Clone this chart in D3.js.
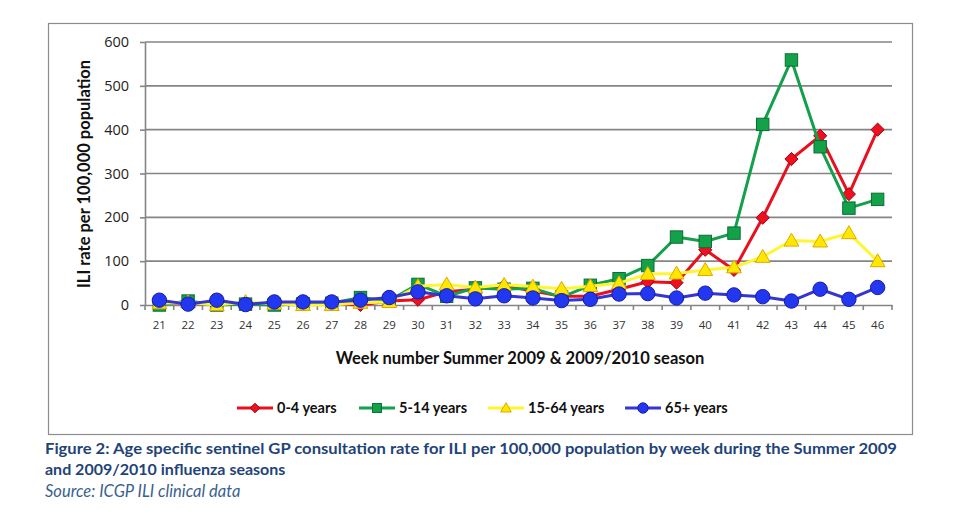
<!DOCTYPE html>
<html><head><meta charset="utf-8">
<script src="https://cdn.jsdelivr.net/npm/d3@7"></script>
<style>
body{margin:0;background:#fff;}
text{font-family:Lato,"Open Sans",sans-serif;}
</style></head>
<body><svg id="c" width="957" height="525"></svg>
<script>
const weeks = ["21","22","23","24","25","26","27","28","29","30","31","32","33","34","35","36","37","38","39","40","41","42","43","44","45","46"];
const age0to4   = [5,4,4,3,3,2,3,0,9,12,30,36,44,32,20,20,36,53,51,126,80,199,333,386,253,400];
const age5to14  = [0,9,0,2,0,3,4,17,10,47,20,39,36,38,18,45,60,90,155,145,164,412,559,361,221,241];
const age15to64 = [4,6,0,7,3,0,0,5,7,43,47,40,46,42,37,43,50,71,72,80,86,110,147,145,164,100];
const age65plus = [11,2,11,1,7,7,7,11,17,30,21,14,21,16,10,13,25,26,16,27,23,19,9,36,13,40];
const yTicks = [0,100,200,300,400,500,600];
const seriesNames = ["0-4 years","5-14 years","15-64 years","65+ years"];

const series = [
  {name:seriesNames[0], values:age0to4,   line:"#E8101E", fill:"#EE1020", stroke:"#A00010", shape:"diamond"},
  {name:seriesNames[1], values:age5to14,  line:"#12A04C", fill:"#13A24A", stroke:"#0B6E32", shape:"square"},
  {name:seriesNames[2], values:age15to64, line:"#FFF533", fill:"#FFE800", stroke:"#E0A800", shape:"triangle"},
  {name:seriesNames[3], values:age65plus, line:"#3535D0", fill:"#2238F0", stroke:"#1A1AA8", shape:"circle"}
];

const svg = d3.select("#c");
const L=145, R=892, T=42, B=305;

// frame
svg.append("rect").attr("x",48.5).attr("y",23.5).attr("width",864).attr("height",411)
  .attr("fill","#fff").attr("stroke","#8c8c8c").attr("stroke-width",1.2);

const x = d3.scaleBand().domain(weeks).range([L,R]);
const y = d3.scaleLinear().domain([0,600]).range([B,T]);

// gridlines
svg.append("g").selectAll("line").data(yTicks.filter(d=>d>0)).join("line")
  .attr("x1",L).attr("x2",R).attr("y1",d=>y(d)).attr("y2",d=>y(d))
  .attr("stroke","#858585").attr("stroke-width",1.6);

// y axis
const ya = svg.append("g").attr("transform",`translate(${L},0)`)
  .call(d3.axisLeft(y).tickValues(yTicks).tickSize(5).tickPadding(11).tickSizeOuter(0));
ya.select(".domain").attr("stroke","#858585").attr("stroke-width",1.6);
ya.selectAll(".tick line").attr("stroke","#858585").attr("stroke-width",1.6);
ya.selectAll("text").attr("font-size",14.5).attr("fill","#222").style("font-family","'Open Sans'");

// x axis
const xa = svg.append("g").attr("transform",`translate(0,${B})`)
  .call(d3.axisBottom(x).tickSize(0).tickPadding(16).tickSizeOuter(0));
xa.select(".domain").attr("stroke","#858585").attr("stroke-width",1.6);
xa.selectAll("text").attr("font-size",11.5).attr("fill","#333").style("font-family","'Open Sans'");
// tick marks between categories
const bounds = weeks.map(w=>x(w)).concat([R]);
svg.append("g").selectAll("line").data(bounds).join("line")
  .attr("x1",d=>d).attr("x2",d=>d).attr("y1",B).attr("y2",B+5)
  .attr("stroke","#858585").attr("stroke-width",1.6);

const cx = w => x(w)+x.bandwidth()/2;

function marker(g, s, px, py, scale){
  const k = scale||1;
  let el;
  if(s.shape==="diamond"){
    const r=6.6*k;
    el=g.append("path").attr("d",`M${px},${py-r}L${px+r},${py}L${px},${py+r}L${px-r},${py}Z`);
  } else if(s.shape==="square"){
    const h=6.2*k;
    el=g.append("rect").attr("x",px-h).attr("y",py-h).attr("width",2*h).attr("height",2*h);
  } else if(s.shape==="triangle"){
    const h=7.4*k;
    el=g.append("path").attr("d",`M${px},${py-h}L${px+h},${py+h*0.75}L${px-h},${py+h*0.75}Z`);
  } else {
    el=g.append("circle").attr("cx",px).attr("cy",py).attr("r",7.2*k);
  }
  el.attr("fill",s.fill).attr("stroke",s.stroke).attr("stroke-width",1);
}

const line = d3.line().x((d,i)=>cx(weeks[i])).y(d=>y(d));
series.forEach(s=>{
  const g = svg.append("g");
  g.append("path").datum(s.values).attr("d",line).attr("fill","none")
    .attr("stroke",s.line).attr("stroke-width",3).attr("stroke-linejoin","round");
  s.values.forEach((v,i)=>marker(g,s,cx(weeks[i]),y(v)));
});

// axis titles
svg.append("text").attr("transform","translate(90,174) rotate(-90)")
  .attr("text-anchor","middle").attr("font-size",16.5).attr("font-weight","bold").attr("fill","#111")
  .text("ILI rate per 100,000 population");
svg.append("text").attr("x",520).attr("y",364).attr("text-anchor","middle")
  .attr("font-size",16.5).attr("font-weight","bold").attr("fill","#111")
  .text("Week number Summer 2009 & 2009/2010 season");

// legend
const legX = [237,359,488,625];
series.forEach((s,i)=>{
  const g=svg.append("g");
  const x0=legX[i];
  g.append("line").attr("x1",x0).attr("x2",x0+36).attr("y1",408).attr("y2",408)
    .attr("stroke",s.line).attr("stroke-width",3);
  marker(g,s,x0+18,408,0.72);
  g.append("text").attr("x",x0+40).attr("y",413).attr("font-size",14.5).attr("font-weight","bold")
    .attr("fill","#111").text(s.name);
});

// caption
svg.append("text").attr("x",45).attr("y",454).attr("font-size",16).attr("font-weight","bold")
  .attr("fill","#1F4478").attr("textLength",852).attr("lengthAdjust","spacingAndGlyphs")
  .text("Figure 2: Age specific sentinel GP consultation rate for ILI per 100,000 population by week during the Summer 2009");
svg.append("text").attr("x",45).attr("y",475).attr("font-size",16).attr("font-weight","bold")
  .attr("fill","#1F4478").text("and 2009/2010 influenza seasons");
svg.append("text").attr("x",45).attr("y",497).attr("font-size",16.5).attr("font-style","italic")
  .attr("fill","#3A5F8F").text("Source: ICGP ILI clinical data");
</script></body></html>
